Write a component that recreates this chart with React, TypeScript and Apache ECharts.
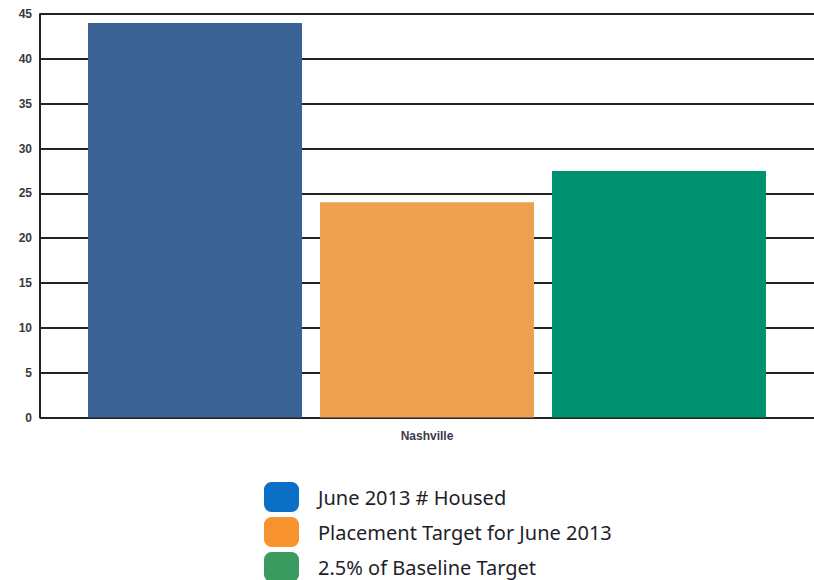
import React, { useEffect, useRef } from "react";
import * as echarts from "echarts";

const categories = ["Nashville"];
const seriesNames = ["June 2013 # Housed", "Placement Target for June 2013", "2.5% of Baseline Target"];
const housed = [44];
const placementTarget = [24];
const baselineTarget = [27.5];
const barColors = ["#3A6393", "#EDA150", "#009170"];
const legendColors = ["#0B6FC6", "#F7922F", "#3A9A60"];

export default function App() {
  const ref = useRef<HTMLDivElement>(null);
  useEffect(() => {
    if (!ref.current) return;
    const chart = echarts.init(ref.current, null, { renderer: "svg" });
    const values = [housed, placementTarget, baselineTarget];
    chart.setOption({
      animation: false,
      backgroundColor: "#ffffff",
      grid: { left: 40, right: 0, top: 14, bottom: 162.5 },
      xAxis: {
        type: "category",
        data: categories,
        axisLine: { show: false },
        axisTick: { show: false },
        axisLabel: {
          color: "#3a3a4a",
          fontFamily: "Liberation Sans",
          fontSize: 12,
          fontWeight: "bold",
          margin: 12,
        },
      },
      yAxis: {
        type: "value",
        min: 0,
        max: 45,
        interval: 5,
        axisLine: { show: true, lineStyle: { color: "#222", width: 2 } },
        axisTick: { show: false },
        splitLine: { lineStyle: { color: "#222", width: 2 } },
        axisLabel: {
          color: "#3a3a3a",
          fontFamily: "Liberation Sans",
          fontSize: 12,
          fontWeight: "bold",
          margin: 8,
        },
      },
      legend: {
        orient: "vertical",
        left: 264,
        top: 482,
        height: 120,
        padding: 0,
        itemWidth: 35,
        itemHeight: 30,
        itemGap: 5,
        icon: "roundRect",
        textStyle: {
          color: "#1e1e28",
          fontFamily: "Noto Sans",
          fontSize: 20,
          padding: [5, 0, 0, 14],
        },
        data: seriesNames.map((n, i) => ({ name: n, itemStyle: { color: legendColors[i] } })),
      },
      series: seriesNames.map((n, i) => ({
        name: n,
        type: "bar",
        data: values[i],
        barWidth: 214,
        barGap: "8.4%",
        itemStyle: { color: barColors[i] },
      })),
    });
    return () => chart.dispose();
  }, []);
  return (
    <div
      ref={ref}
      style={{ position: "fixed", left: 0, top: 0, width: 814, height: 580 }}
    />
  );
}
